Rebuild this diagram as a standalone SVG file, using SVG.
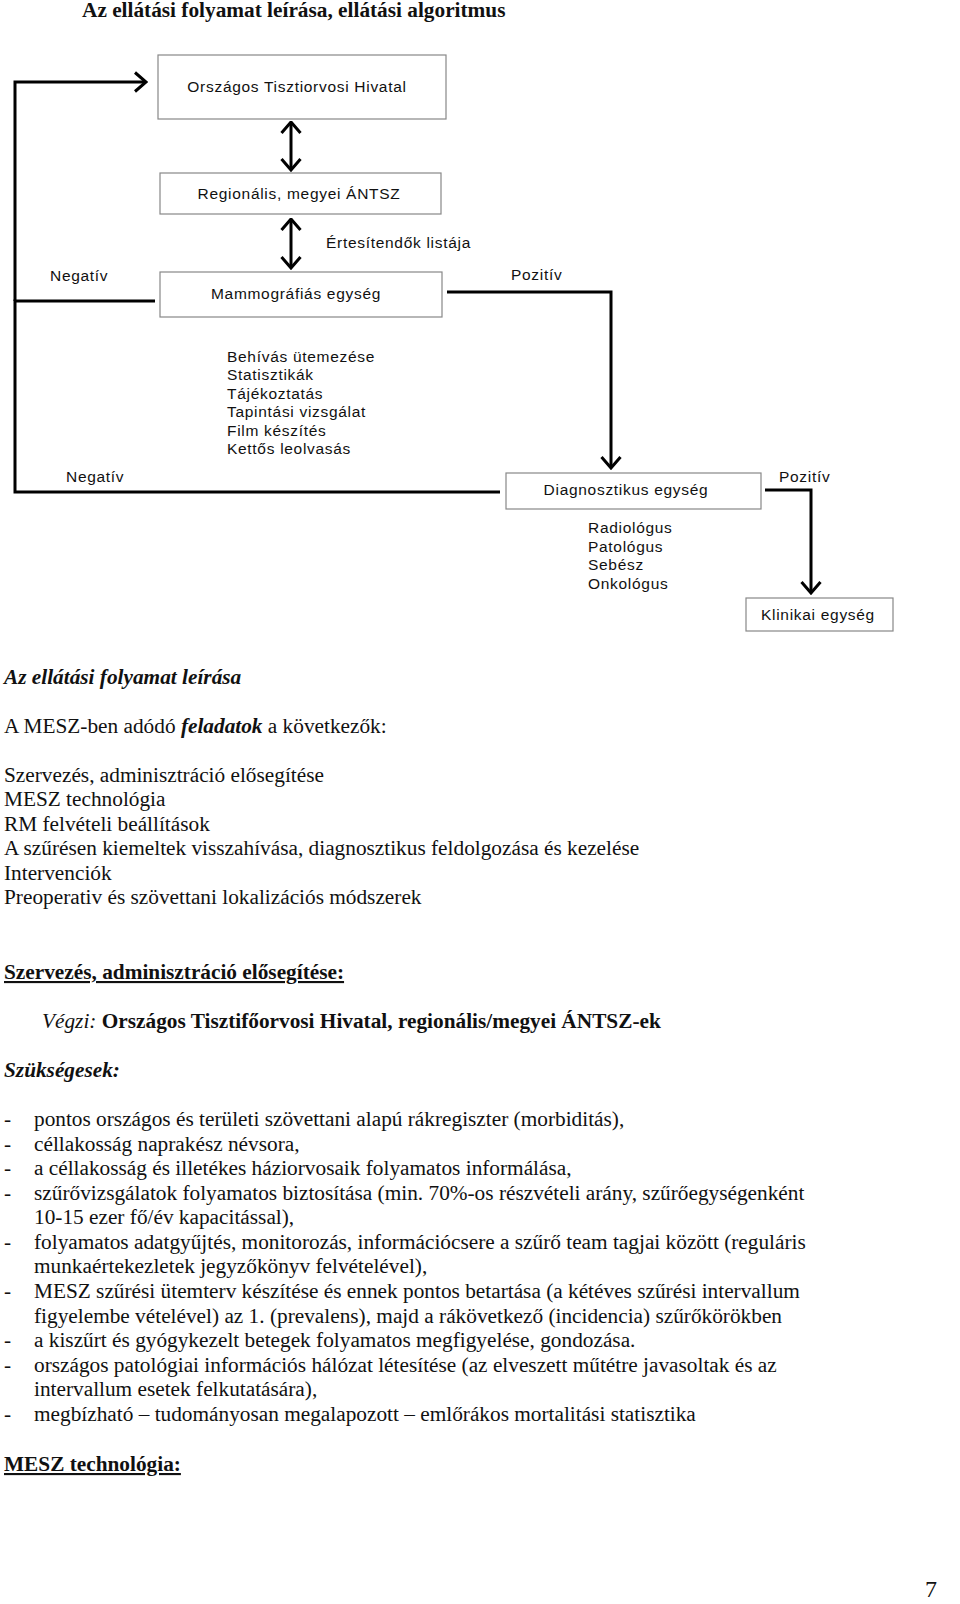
<svg xmlns="http://www.w3.org/2000/svg" width="960" height="1604" viewBox="0 0 960 1604">
<defs>
<style>
.box{fill:#fff;stroke:#888;stroke-width:1.2}
.lbl{font-family:"Liberation Sans",Arial,sans-serif;font-size:15.5px;letter-spacing:0.7px;fill:#111}
.ln{fill:none;stroke:#000;stroke-width:3}
.t{font-family:"Liberation Serif","Times New Roman",serif;font-size:21.3px;fill:#111}
.b{font-weight:bold}
.i{font-style:italic}
.u{text-decoration:underline}
</style>
<marker id="ah" viewBox="0 0 14 22" refX="12.5" refY="11" markerWidth="14" markerHeight="22" markerUnits="userSpaceOnUse" orient="auto-start-reverse">
<path d="M1.5,1.5 L12.5,11 L1.5,20.5" fill="none" stroke="#000" stroke-width="3"/>
</marker>
</defs>
<rect width="960" height="1604" fill="#fff"/>
<text x="82" y="17" class="t b">Az ellátási folyamat leírása, ellátási algoritmus</text>

<g id="connectors">
<polyline class="ln" points="155,301 15,301 15,492 500,492"/>
<polyline class="ln" points="15,301 15,82 146,82" marker-end="url(#ah)"/>
<line class="ln" x1="291" y1="122" x2="291" y2="170" marker-start="url(#ah)" marker-end="url(#ah)"/>
<line class="ln" x1="291" y1="219" x2="291" y2="268" marker-start="url(#ah)" marker-end="url(#ah)"/>
<polyline class="ln" points="447,292 611,292 611,468" marker-end="url(#ah)"/>
<polyline class="ln" points="765,490 811,490 811,593" marker-end="url(#ah)"/>
</g>

<g id="n-oth"><rect class="box" x="158" y="55" width="288" height="64"/><text class="lbl" x="297" y="92" text-anchor="middle">Országos Tisztiorvosi Hivatal</text></g>
<g id="n-antsz"><rect class="box" x="160" y="173" width="281" height="41"/><text class="lbl" x="299" y="199" text-anchor="middle">Regionális, megyei ÁNTSZ</text></g>
<g id="n-mammo"><rect class="box" x="160" y="272" width="282" height="45"/><text class="lbl" x="296" y="299" text-anchor="middle">Mammográfiás egység</text></g>
<g id="n-diag"><rect class="box" x="506" y="473" width="255" height="36"/><text class="lbl" x="626" y="495" text-anchor="middle">Diagnosztikus egység</text></g>
<g id="n-klin"><rect class="box" x="746" y="598" width="147" height="33"/><text class="lbl" x="818" y="620" text-anchor="middle">Klinikai egység</text></g>

<g id="labels" class="lbl">
<text x="326" y="248">Értesítendők listája</text>
<text x="50" y="281">Negatív</text>
<text x="511" y="280">Pozitív</text>
<text x="66" y="482">Negatív</text>
<text x="779" y="482">Pozitív</text>
<text x="227" y="362">Behívás ütemezése</text>
<text x="227" y="380">Statisztikák</text>
<text x="227" y="399">Tájékoztatás</text>
<text x="227" y="417">Tapintási vizsgálat</text>
<text x="227" y="436">Film készítés</text>
<text x="227" y="454">Kettős leolvasás</text>
<text x="588" y="533">Radiológus</text>
<text x="588" y="552">Patológus</text>
<text x="588" y="570">Sebész</text>
<text x="588" y="589">Onkológus</text>
</g>

<g id="body" class="t">
<text x="4" y="684" class="b i">Az ellátási folyamat leírása</text>
<text x="4" y="733">A MESZ-ben adódó <tspan class="b i">feladatok</tspan> a következők:</text>
<text x="4" y="782">Szervezés, adminisztráció elősegítése</text>
<text x="4" y="806">MESZ technológia</text>
<text x="4" y="831">RM felvételi beállítások</text>
<text x="4" y="855">A szűrésen kiemeltek visszahívása, diagnosztikus feldolgozása és kezelése</text>
<text x="4" y="880">Intervenciók</text>
<text x="4" y="904">Preoperativ és szövettani lokalizációs módszerek</text>
<text x="4" y="979" class="b u">Szervezés, adminisztráció elősegítése:</text>
<text x="42" y="1028"><tspan class="i">Végzi:</tspan> <tspan class="b">Országos Tisztifőorvosi Hivatal, regionális/megyei ÁNTSZ-ek</tspan></text>
<text x="4" y="1077" class="b i">Szükségesek:</text>
<text x="4" y="1126">-</text><text x="34" y="1126">pontos országos és területi szövettani alapú rákregiszter (morbiditás),</text>
<text x="4" y="1151">-</text><text x="34" y="1151">céllakosság naprakész névsora,</text>
<text x="4" y="1175">-</text><text x="34" y="1175">a céllakosság és illetékes háziorvosaik folyamatos informálása,</text>
<text x="4" y="1200">-</text><text x="34" y="1200">szűrővizsgálatok folyamatos biztosítása (min. 70%-os részvételi arány, szűrőegységenként</text>
<text x="34" y="1224">10-15 ezer fő/év kapacitással),</text>
<text x="4" y="1249">-</text><text x="34" y="1249">folyamatos adatgyűjtés, monitorozás, információcsere a szűrő team tagjai között (reguláris</text>
<text x="34" y="1273">munkaértekezletek jegyzőkönyv felvételével),</text>
<text x="4" y="1298">-</text><text x="34" y="1298">MESZ szűrési ütemterv készítése és ennek pontos betartása (a kétéves szűrési intervallum</text>
<text x="34" y="1323">figyelembe vételével) az 1. (prevalens), majd a rákövetkező (incidencia) szűrőkörökben</text>
<text x="4" y="1347">-</text><text x="34" y="1347">a kiszűrt és gyógykezelt betegek folyamatos megfigyelése, gondozása.</text>
<text x="4" y="1372">-</text><text x="34" y="1372">országos patológiai információs hálózat létesítése (az elveszett műtétre javasoltak és az</text>
<text x="34" y="1396">intervallum esetek felkutatására),</text>
<text x="4" y="1421">-</text><text x="34" y="1421">megbízható – tudományosan megalapozott – emlőrákos mortalitási statisztika</text>
<text x="4" y="1471" class="b u">MESZ technológia:</text>
<text x="925" y="1597" style="font-size:24px">7</text>
</g>
</svg>
